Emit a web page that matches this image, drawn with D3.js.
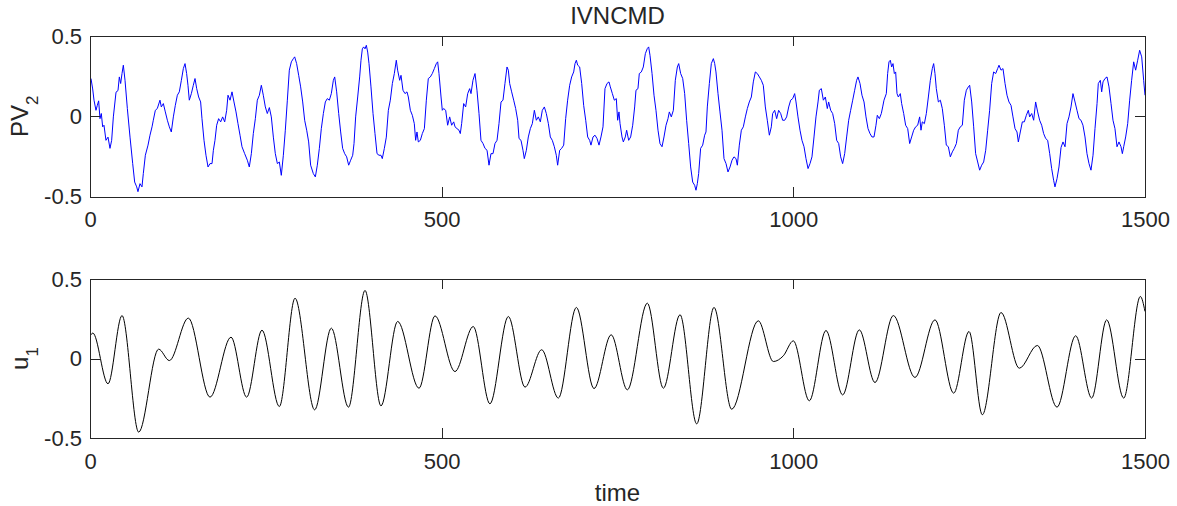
<!DOCTYPE html>
<html>
<head>
<meta charset="utf-8">
<script src="https://cdn.jsdelivr.net/npm/d3@7"></script>
<style>
  html, body { margin: 0; padding: 0; background: #fff; }
  svg { display: block; }
  text { font-family: "Liberation Sans", Arial, Helvetica, sans-serif; fill: #262626; }
</style>
</head>
<body>
<div id="chart"></div>
<script>
// values, [time, value]
const pv2 = [
  [0,0.235],[1.4,0.235],[3.8,0.17],[5.7,0.10],[8.5,0.037],[10.4,0.068],[12.3,0.096],[14.2,-0.015],[16.1,0.017],[18,-0.066],
  [19.9,-0.056],[22.7,-0.15],[25.6,-0.13],[28.4,-0.2],[30.8,-0.15],[33.2,-0.004],[37,0.15],[39.8,0.16],[41.7,0.245],[43.6,0.204],
  [45.5,0.266],[47.4,0.318],[49.8,0.224],[53.1,0.048],[56.9,-0.13],[60.7,-0.295],[63.5,-0.41],[66.4,-0.44],[68.2,-0.47],[71.1,-0.42],
  [73.9,-0.44],[75.8,-0.357],[78.7,-0.243],[82.5,-0.18],[85.3,-0.118],[88.2,-0.066],[90,-0.025],[92.9,0.037],[95.7,0.048],[99.5,0.1],
  [101.4,0.058],[104.3,0.079],[107.1,0.027],[110,-0.025],[112.8,-0.066],[115.6,-0.098],[118.5,-0.004],[121.3,0.068],[124.2,0.131],[127,0.152],
  [129.9,0.224],[132.7,0.297],[135.1,0.328],[137.4,0.266],[139.3,0.193],[141.2,0.1],[144.1,0.141],[146.9,0.193],[149.3,0.235],[151.7,0.172],
  [154.5,0.12],[157.3,0.089],[159.2,-0.015],[162.1,-0.15],[164.9,-0.243],[167.8,-0.316],[170.6,-0.295],[173.5,-0.295],[175.4,-0.212],[177.7,-0.15],
  [180.1,-0.056],[182.9,-0.015],[185.8,-0.035],[188.6,-0.004],[191.5,-0.035],[194.3,0.037],[196.2,0.131],[199.1,0.1],[201.9,0.152],[204.7,0.089],
  [207.6,0.027],[210.4,-0.046],[213.3,-0.118],[216.1,-0.19],[219.9,-0.233],[223.7,-0.274],[226.5,-0.316],[229.4,-0.233],[232.2,-0.108],[235.1,-0.015],
  [237.9,0.1],[240.8,0.131],[243.6,0.193],[246.4,0.131],[249.3,0.058],[252.1,0.017],[255,0.054],[257.8,-0.004],[260.7,-0.13],[263.5,-0.233],
  [266.4,-0.295],[269.2,-0.285],[272,-0.368],[274.9,-0.243],[277.7,-0.087],[280.6,0.1],[283.4,0.287],[286.3,0.339],[289.1,0.359],[291,0.37],
  [293.8,0.328],[296.7,0.255],[299.5,0.183],[302.4,0.089],[305.2,-0.025],[308.1,-0.087],[310.9,-0.16],[313.7,-0.305],[317.5,-0.357],[320.4,-0.378],
  [323.2,-0.305],[326.1,-0.2],[328.9,-0.077],[331.8,0.017],[334.6,0.089],[337.4,0.11],[340.3,0.1],[343.1,0.141],[346,0.224],[347.9,0.245],
  [350.7,0.152],[353.6,0.017],[356.4,-0.098],[359.2,-0.2],[362.1,-0.233],[364.9,-0.253],[367.8,-0.305],[370.6,-0.274],[373.5,-0.243],[375.4,-0.17],
  [377.7,-0.004],[380.6,0.12],[383.4,0.245],[385.3,0.349],[387.2,0.42],[389.1,0.432],[391,0.42],[392.9,0.442],[394.8,0.4],[396.7,0.328],
  [399.5,0.183],[402.4,0.017],[405.2,-0.108],[408.1,-0.233],[410.9,-0.243],[413.7,-0.243],[415.6,-0.264],[418.5,-0.2],[421.3,-0.13],[424.2,0.037],
  [427,0.1],[429.9,0.204],[432.7,0.266],[435.5,0.349],[437.4,0.287],[440.3,0.224],[442.2,0.255],[445,0.162],[447.9,0.141],[450.7,0.152],
  [452.6,0.12],[455.5,0.037],[458.3,0.006],[461.1,-0.046],[463,-0.15],[464.9,-0.098],[466.8,-0.16],[469.7,-0.15],[472.5,-0.108],[475.4,-0.077],
  [478.2,0.1],[481,0.235],[483.9,0.245],[486.7,0.266],[489.6,0.297],[492.4,0.328],[494.3,0.339],[496.2,0.266],[499.1,0.12],[500.9,0.037],
  [502.8,0.048],[505.7,0.037],[508.5,-0.056],[511.4,-0.004],[514.2,-0.056],[517.1,-0.035],[519,-0.066],[521.8,-0.077],[524.6,-0.087],[526.5,-0.108],
  [528.4,-0.046],[531.3,0.079],[534.1,0.058],[537,0.141],[539.8,0.172],[541.7,0.141],[544.5,0.224],[547.4,0.266],[550.2,0.162],[553.1,0.017],
  [555.9,-0.15],[558.8,-0.17],[561.6,-0.2],[564.5,-0.212],[567.3,-0.305],[570.1,-0.233],[573,-0.233],[575.8,-0.17],[578.7,-0.15],[581.5,-0.046],
  [584.4,0.089],[587.2,0.1],[590,0.204],[592.9,0.307],[594.8,0.287],[596.7,0.204],[599.5,0.152],[602.4,0.1],[605.2,0.048],[608.1,-0.025],
  [610,-0.139],[612.8,-0.15],[615.6,-0.212],[617.5,-0.264],[620.4,-0.212],[623.2,-0.129],[626.1,-0.077],[628.9,-0.046],[631.8,0.037],[634.6,-0.025],
  [637.4,-0.004],[640.3,-0.035],[643.1,0.037],[646,0.058],[648.8,0.017],[651.7,-0.046],[654.5,-0.129],[657.3,-0.15],[660.2,-0.19],[663,-0.243],
  [664.9,-0.305],[667.8,-0.212],[670.6,-0.2],[673.5,-0.18],[676.3,-0.015],[679.1,0.1],[682,0.193],[684.8,0.245],[687.7,0.276],[689.6,0.328],
  [691.5,0.349],[693.4,0.318],[696.2,0.307],[699.1,0.204],[701.9,0.068],[704.8,-0.025],[707.6,-0.129],[710.4,-0.15],[712.3,-0.18],[715.2,-0.129],
  [718,-0.118],[720.9,-0.139],[723.7,-0.18],[726.5,-0.129],[729.4,-0.066],[732.2,0.172],[735.1,0.204],[737.9,0.214],[739.8,0.183],[742.7,0.141],
  [745.5,0.1],[748.3,0.11],[750.2,-0.025],[752.1,0.027],[753.6,-0.046],[756.4,-0.129],[758.3,-0.16],[761.1,-0.129],[763,-0.087],[765.9,-0.15],
  [768.7,-0.129],[771.6,-0.056],[774.4,0.058],[776.3,0.162],[779.1,0.172],[781,0.266],[783.9,0.276],[786.7,0.307],[789.6,0.39],[792.4,0.422],
  [794.3,0.432],[796.2,0.38],[799.1,0.266],[801.9,0.131],[804.7,0.037],[807.6,-0.087],[810.4,-0.17],[813.3,-0.19],[816.1,-0.129],[819,-0.056],
  [821.8,-0.015],[823.7,0.027],[826.5,-0.004],[829.4,0.037],[832.2,0.224],[835.1,0.307],[837,0.328],[839.8,0.266],[842.7,0.235],[845.5,0.141],
  [848.3,-0.025],[851.2,-0.17],[854,-0.316],[856.9,-0.41],[859.7,-0.43],[861.6,-0.461],[863.5,-0.42],[865.4,-0.357],[868.2,-0.2],[871.1,-0.18],
  [873.9,-0.118],[875.8,-0.098],[877.7,0.058],[880.6,0.204],[883.4,0.328],[886.3,0.359],[888.2,0.328],[890,0.276],[892.9,0.141],[895.7,0.027],
  [898.6,-0.087],[901.4,-0.264],[904.3,-0.295],[907.1,-0.347],[910,-0.316],[912.8,-0.274],[915.6,-0.253],[918.5,-0.264],[920.4,-0.305],[923.2,-0.18],
  [926.1,-0.087],[928.9,-0.066],[931.8,-0.004],[934.6,0.048],[937.4,0.089],[940.3,0.12],[943.1,0.214],[946,0.276],[948.8,0.266],[951.7,0.245],
  [954.5,0.224],[957.3,0.193],[960.2,0.058],[963,-0.025],[965.9,-0.118],[968.7,-0.066],[970.6,0.017],[973.5,0.037],[976.3,-0.015],[979.1,0.037],
  [982,0.017],[984.8,-0.025],[987.7,-0.025],[990.5,-0.004],[993.4,0.058],[996.2,0.1],[999.1,0.11],[1001.9,0.141],[1003.8,0.089],[1006.6,-0.004],
  [1009.5,-0.087],[1012.3,-0.15],[1015.2,-0.19],[1018,-0.264],[1020.9,-0.326],[1023.7,-0.295],[1026.5,-0.253],[1029.4,-0.129],[1032.2,-0.004],[1035.1,0.089],
  [1037,0.162],[1039.8,0.172],[1042.7,0.1],[1045.5,0.12],[1048.3,0.048],[1050.2,0.089],[1053.1,0.037],[1055.9,0.017],[1058.8,-0.046],[1061.6,-0.15],
  [1064.5,-0.17],[1067.3,-0.253],[1070.1,-0.295],[1073,-0.233],[1075.8,-0.129],[1078.7,-0.025],[1081.5,0.037],[1084.4,0.1],[1087.2,0.162],[1090,0.224],
  [1091.9,0.245],[1094.8,0.204],[1097.6,0.131],[1100.5,0.089],[1103.3,-0.004],[1106.2,-0.077],[1109,-0.108],[1111.8,-0.129],[1114.7,-0.129],[1117.5,-0.056],
  [1119.4,0.006],[1122.3,-0.015],[1125.1,0.017],[1127,0.058],[1128.9,0.1],[1132.2,0.141],[1134.1,0.266],[1136,0.339],[1137.9,0.349],[1139.8,0.307],
  [1141.7,0.328],[1143.6,0.266],[1145.5,0.276],[1147.4,0.141],[1149.3,0.12],[1152.1,0.141],[1154,0.079],[1156.9,0.017],[1159.7,-0.056],[1162.6,-0.077],
  [1165.4,-0.17],[1168.2,-0.129],[1171.1,-0.087],[1173.9,-0.066],[1176.8,-0.056],[1179.6,-0.004],[1181.5,-0.087],[1183.4,-0.035],[1186.3,-0.046],[1189.1,0.017],
  [1192,0.12],[1194.8,0.224],[1197.6,0.297],[1199.5,0.328],[1201.4,0.266],[1203.3,0.172],[1206.2,0.089],[1209,0.1],[1211.8,0.048],[1214.7,-0.056],
  [1217.5,-0.18],[1220.4,-0.19],[1223.2,-0.253],[1226.1,-0.222],[1228.9,-0.2],[1231.8,-0.17],[1234.6,-0.087],[1237.4,-0.066],[1240.3,-0.056],[1243.1,0.1],
  [1246,0.162],[1248.8,0.183],[1250.7,0.193],[1253.6,0.089],[1256.4,-0.066],[1259.2,-0.233],[1262.1,-0.285],[1264.9,-0.336],[1267.8,-0.305],[1270.6,-0.285],
  [1273.5,-0.212],[1276.3,-0.087],[1279.1,0.037],[1282,0.204],[1284.8,0.276],[1287.7,0.266],[1290.5,0.297],[1292.4,0.318],[1295.3,0.287],[1298.1,0.297],
  [1301,0.204],[1303.8,0.131],[1306.6,0.089],[1309.5,0.068],[1312.3,-0.004],[1315.2,-0.077],[1318,-0.098],[1319.9,-0.16],[1322.7,-0.098],[1325.6,-0.035],
  [1328.4,-0.035],[1331.3,0.006],[1334.1,0.037],[1336,-0.004],[1338.9,0.017],[1341.7,-0.025],[1344.5,0.089],[1347.4,0.027],[1350.2,-0.025],[1353.1,-0.056],
  [1355.9,-0.108],[1358.8,-0.139],[1361.6,-0.15],[1364.5,-0.233],[1367.3,-0.326],[1370.1,-0.399],[1372,-0.44],[1374.9,-0.389],[1377.7,-0.316],[1380.6,-0.195],
  [1383.4,-0.16],[1386.3,-0.19],[1389.1,-0.046],[1391.9,-0.004],[1394.8,0.058],[1397.6,0.141],[1400.5,0.089],[1403.3,0.037],[1406.2,-0.015],[1409,-0.025],
  [1411.8,-0.056],[1414.7,-0.129],[1417.5,-0.233],[1420.4,-0.295],[1423.2,-0.336],[1426.1,-0.243],[1428.9,-0.077],[1431.8,0.079],[1433.6,0.204],[1436.5,0.224],
  [1438.4,0.152],[1440.3,0.214],[1443.1,0.235],[1446,0.245],[1448.8,0.183],[1451.7,0.079],[1454.5,-0.025],[1457.3,-0.077],[1460.2,-0.19],[1463,-0.16],
  [1465.9,-0.19],[1467.8,-0.233],[1469.7,-0.19],[1472.5,-0.129],[1475.4,-0.046],[1478.2,0.1],[1481,0.224],[1483.9,0.339],[1486.7,0.287],[1489.6,0.349],
  [1492.4,0.411],[1495.3,0.37],[1498.1,0.224],[1500,0.131]
];

// smooth mode: turning points, [time, value]
const u1 = [
  [0,0.14],[4,0.16],[25.6,-0.159],[45.5,0.27],[69.2,-0.463],[97.6,0.059],[112.8,-0.013],[139.8,0.254],[170.6,-0.243],[200.5,0.134],
  [222.7,-0.243],[244.5,0.178],[269.2,-0.302],[291.5,0.379],[319.4,-0.323],[343.1,0.191],[367.5,-0.306],[391,0.428],[413.7,-0.298],[437.4,0.233],
  [467.8,-0.187],[490.5,0.268],[518.9,-0.082],[544.9,0.201],[568.6,-0.285],[594.8,0.264],[618.5,-0.18],[642.2,0.055],[665.9,-0.249],[691.5,0.321],
  [716.6,-0.189],[741,0.149],[764,-0.197],[792.4,0.348],[815.2,-0.187],[838.9,0.275],[862.6,-0.411],[887.2,0.321],[912.3,-0.319],[950.2,0.237],
  [971.6,-0.019],[985.8,0.017],[1000,0.111],[1022.7,-0.266],[1046.4,0.176],[1070.1,-0.229],[1093.8,0.18],[1116.1,-0.151],[1142.2,0.27],[1172.9,-0.119],
  [1201.4,0.243],[1228,-0.218],[1249.8,0.17],[1268.7,-0.354],[1295.3,0.289],[1321.3,-0.061],[1346.9,0.082],[1374.9,-0.306],[1401.4,0.143],[1424.2,-0.249],
  [1445.5,0.243],[1469.7,-0.249],[1493.4,0.39],[1500,0.296]
];

const xTicks = [0, 500, 1000, 1500];
const yTicks = [-0.5, 0, 0.5];
const yTickLabels = ["-0.5", "0", "0.5"];

// Layout
const width = 1177, height = 506;
const left = 90, right = 1145;
const panels = [
  { top: 36,  bottom: 196.5, data: pv2, color: "#0000ff", label: "PV", sub: "2", curve: d3.curveLinear },
  { top: 279, bottom: 438,   data: u1,  color: "#000000", label: "u",  sub: "1", curve: d3.curveMonotoneX }
];
const axisColor = "#262626";
const tickFont = 22, labelFont = 24;

const svg = d3.select("#chart").append("svg")
  .attr("width", width)
  .attr("height", height);

const x = d3.scaleLinear().domain([0, 1500]).range([left, right]);

panels.forEach((p, i) => {
  const y = d3.scaleLinear().domain([-0.5, 0.5]).range([p.bottom, p.top]);
  const g = svg.append("g");

  const clipId = "clip" + i;
  g.append("clipPath").attr("id", clipId)
    .append("rect")
    .attr("x", left).attr("y", p.top)
    .attr("width", right - left).attr("height", p.bottom - p.top);

  // curve
  const line = d3.line()
    .x(d => x(d[0]))
    .y(d => y(d[1]))
    .curve(p.curve);
  g.append("path")
    .datum(p.data)
    .attr("clip-path", `url(#${clipId})`)
    .attr("fill", "none")
    .attr("stroke", p.color)
    .attr("stroke-width", 1)
    .attr("stroke-linejoin", "round")
    .attr("d", line);

  // axes: ticks inward on all four sides
  const styleAxis = sel => {
    sel.attr("color", axisColor)
      .attr("font-size", tickFont)
      .attr("font-family", "'Liberation Sans', Arial, Helvetica, sans-serif");
    sel.selectAll("path.domain").attr("shape-rendering", "crispEdges");
    sel.selectAll(".tick line").attr("shape-rendering", "crispEdges");
    sel.selectAll("text").attr("fill", axisColor);
  };

  g.append("g")
    .attr("transform", `translate(0,${p.bottom})`)
    .call(d3.axisBottom(x).tickValues(xTicks).tickFormat(d3.format("d"))
      .tickSizeInner(-10).tickSizeOuter(0).tickPadding(15))
    .call(styleAxis);

  g.append("g")
    .attr("transform", `translate(0,${p.top})`)
    .call(d3.axisTop(x).tickValues(xTicks).tickFormat("")
      .tickSizeInner(-10).tickSizeOuter(0))
    .call(styleAxis);

  g.append("g")
    .attr("transform", `translate(${left},0)`)
    .call(d3.axisLeft(y).tickValues(yTicks).tickFormat((d, k) => yTickLabels[k])
      .tickSizeInner(-10).tickSizeOuter(0).tickPadding(8))
    .call(styleAxis);

  g.append("g")
    .attr("transform", `translate(${right},0)`)
    .call(d3.axisRight(y).tickValues(yTicks).tickFormat("")
      .tickSizeInner(-10).tickSizeOuter(0))
    .call(styleAxis);

  // y label with subscript
  const yl = g.append("text")
    .attr("transform", `translate(28,${(p.top + p.bottom) / 2}) rotate(-90)`)
    .attr("text-anchor", "middle")
    .style("font-size", labelFont + "px");
  yl.append("tspan").text(p.label);
  yl.append("tspan").attr("dy", 10).style("font-size", "17px").text(p.sub);
});

// title and x label
svg.append("text")
  .attr("x", (left + right) / 2)
  .attr("y", 24)
  .attr("text-anchor", "middle")
  .style("font-size", labelFont + "px")
  .text("IVNCMD");

svg.append("text")
  .attr("x", (left + right) / 2)
  .attr("y", 501)
  .attr("text-anchor", "middle")
  .style("font-size", labelFont + "px")
  .text("time");
</script>
</body>
</html>
